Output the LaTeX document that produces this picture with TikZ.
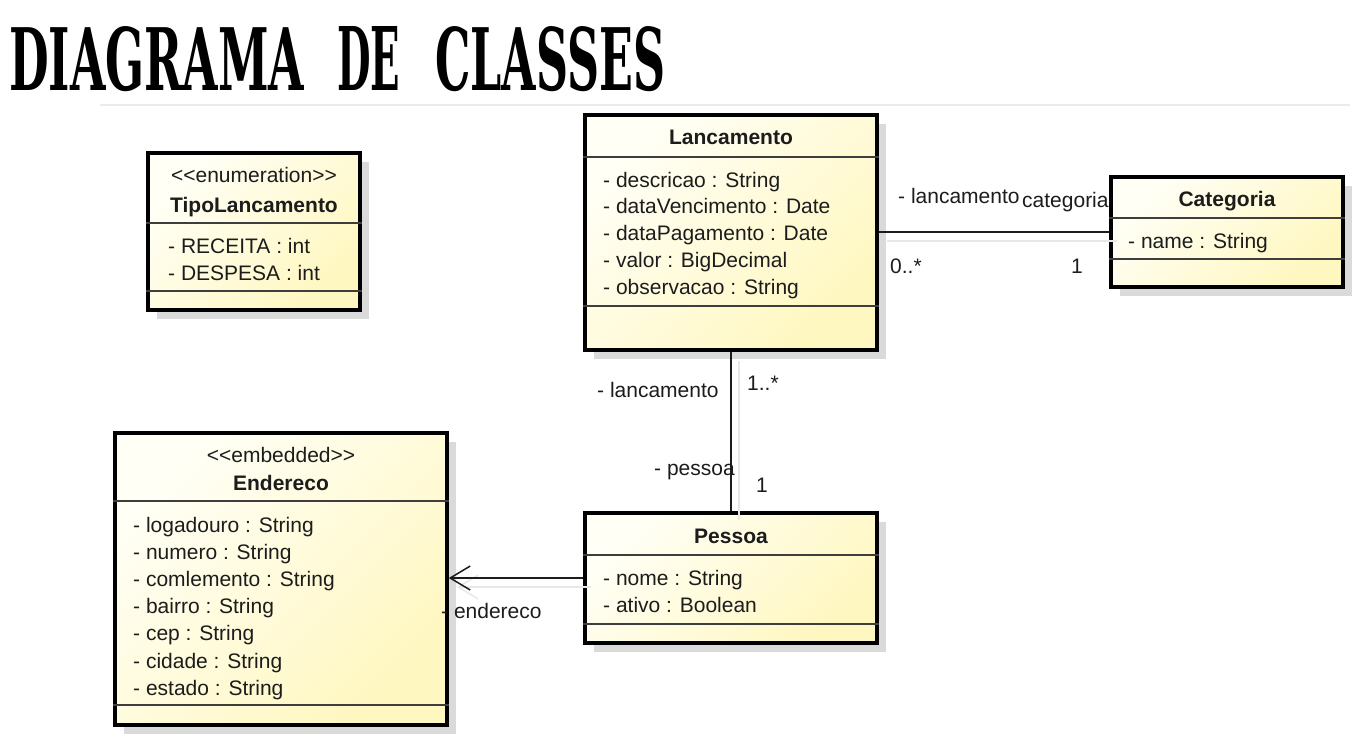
\documentclass[tikz,border=0pt]{standalone}
\usepackage{fontspec}
\setmainfont{Liberation Sans}
\newfontfamily\titlefont{DejaVu Serif}
\usepackage{xcolor}
\usepackage{graphicx}
\usepackage{tikz}
\usetikzlibrary{arrows.meta, positioning, shadows}
\definecolor{umlpaper}{RGB}{255,255,246}
\definecolor{umlyellow}{RGB}{255,247,192}
\definecolor{umlshadow}{RGB}{218,218,218}
\definecolor{umlink}{RGB}{28,28,28}

\newcommand{\titleword}[2]{\resizebox{#1}{64pt}{\titlefont\bfseries #2}}

\begin{document}
\begin{tikzpicture}[x=1pt, y=-1pt, font=\fontsize{21}{25}\selectfont, >={Straight Barb[length=20pt,width=24pt]}]

% =========================
% Styles (ALL IN ONE BLOCK)
% =========================
\tikzset{
    umlclass/.style={draw=black, line width=3.5pt, inner sep=0pt, top color=umlpaper, bottom color=umlyellow, shading angle=45,
        drop shadow={shadow xshift=9pt, shadow yshift=-9pt, fill=umlshadow, opacity=1}},
    divider/.style={draw=umlink!85, line width=1.5pt},
    cname/.style={inner sep=0pt, text height=15pt, text depth=0pt, text=umlink, font=\fontsize{21}{25}\selectfont\bfseries},
    stereo/.style={inner sep=0pt, text height=15pt, text depth=0pt, text=umlink},
    attr/.style={anchor=west, inner sep=0pt, text height=15pt, text depth=0pt, text=umlink},
    role/.style={attr},
    assoc/.style={draw=umlink, line width=1.5pt},
    linkshadow/.style={draw=black!9, line width=1.5pt, transform canvas={shift={(8pt,-9pt)}}},
    titlerule/.style={draw=black!8, line width=1.5pt}
}

\useasboundingbox (0,0) rectangle (1361,748);

% =========================
% Title
% =========================
\node[anchor=south west, inner sep=0pt] (title) at (9,92)
    {\titleword{295pt}{DIAGRAMA}\hspace{33pt}\titleword{63pt}{DE}\hspace{35pt}\titleword{230pt}{CLASSES}};
\draw[titlerule] (100,105) -- (1350,105);

% =========================
% TipoLancamento (enumeration)
% =========================
\node[umlclass, minimum width=212pt, minimum height=157pt] (tipo) at (254,231.5) {};
\node[stereo] (tipo-st) at (254,174.5) {<{}<enumeration>{}>};
\node[cname] (tipo-nm) at (254,204.5) {TipoLancamento};
\draw[divider] (tipo.west |- 0,223) -- (tipo.east |- 0,223);
\draw[divider] (tipo.west |- 0,291) -- (tipo.east |- 0,291);
\foreach \a [count=\i from 0] in {- RECEITA : int, - DESPESA : int} {
    \node[attr] (tipo-a\i) at (168,245.5+27*\i) {\a};
}

% =========================
% Lancamento
% =========================
\node[umlclass, minimum width=292pt, minimum height=235pt] (lanc) at (731,232.5) {};
\node[cname] (lanc-nm) at (731,136.5) {Lancamento};
\draw[divider] (lanc.west |- 0,157) -- (lanc.east |- 0,157);
\draw[divider] (lanc.west |- 0,306) -- (lanc.east |- 0,306);
\foreach \a [count=\i from 0] in {- descricao : String, - dataVencimento : Date, - dataPagamento : Date, - valor : BigDecimal, - observacao : String} {
    \node[attr] (lanc-a\i) at (603,179.5+26.8*\i) {\a};
}

% =========================
% Categoria
% =========================
\node[umlclass, minimum width=232pt, minimum height=110pt] (cat) at (1227,232) {};
\node[cname] (cat-nm) at (1227,198.5) {Categoria};
\draw[divider] (cat.west |- 0,218) -- (cat.east |- 0,218);
\draw[divider] (cat.west |- 0,259) -- (cat.east |- 0,259);
\node[attr] (cat-a0) at (1128,240.5) {- name : String};

% =========================
% Endereco (embedded)
% =========================
\node[umlclass, minimum width=332pt, minimum height=292pt] (ender) at (281,579) {};
\node[stereo] (ender-st) at (281,454.5) {<{}<embedded>{}>};
\node[cname] (ender-nm) at (281,482.5) {Endereco};
\draw[divider] (ender.west |- 0,501) -- (ender.east |- 0,501);
\draw[divider] (ender.west |- 0,705) -- (ender.east |- 0,705);
\foreach \a [count=\i from 0] in {- logadouro : String, - numero : String, - comlemento : String, - bairro : String, - cep : String, - cidade : String, - estado : String} {
    \node[attr] (ender-a\i) at (133,524.5+27.2*\i) {\a};
}

% =========================
% Pessoa
% =========================
\node[umlclass, minimum width=292pt, minimum height=130pt] (pessoa) at (731,578) {};
\node[cname] (pessoa-nm) at (731,535.5) {Pessoa};
\draw[divider] (pessoa.west |- 0,555) -- (pessoa.east |- 0,555);
\draw[divider] (pessoa.west |- 0,624) -- (pessoa.east |- 0,624);
\foreach \a [count=\i from 0] in {- nome : String, - ativo : Boolean} {
    \node[attr] (pessoa-a\i) at (603,577.5+27*\i) {\a};
}

% =========================
% Associations
% =========================
\draw[linkshadow] (lanc.east |- cat.west) -- (cat.west);
\draw[linkshadow] (lanc.south) -- (pessoa.north);
\draw[linkshadow, ->] (pessoa.west) -- (pessoa.west -| ender.east);

\draw[assoc] (lanc.east |- cat.west) -- (cat.west);
\draw[assoc] (lanc.south) -- (pessoa.north);
\draw[assoc, ->] (pessoa.west) -- (pessoa.west -| ender.east);

% roles and multiplicities
\node[role] (lanc-role1) at (898,196) {- lancamento};
\node[role] (cat-role) at (1022,200) {categoria};
\node[role] (lanc-mult1) at (890,265.5) {0..*};
\node[role] (cat-mult) at (1071,265.5) {1};
\node[role] (lanc-role2) at (597,389.5) {- lancamento};
\node[role] (lanc-mult2) at (747,382.5) {1..*};
\node[role] (pessoa-role) at (654,467.5) {- pessoa};
\node[role] (pessoa-mult) at (756,484.5) {1};
\node[role] (ender-role) at (441,610.5) {- endereco};

\end{tikzpicture}
\end{document}
